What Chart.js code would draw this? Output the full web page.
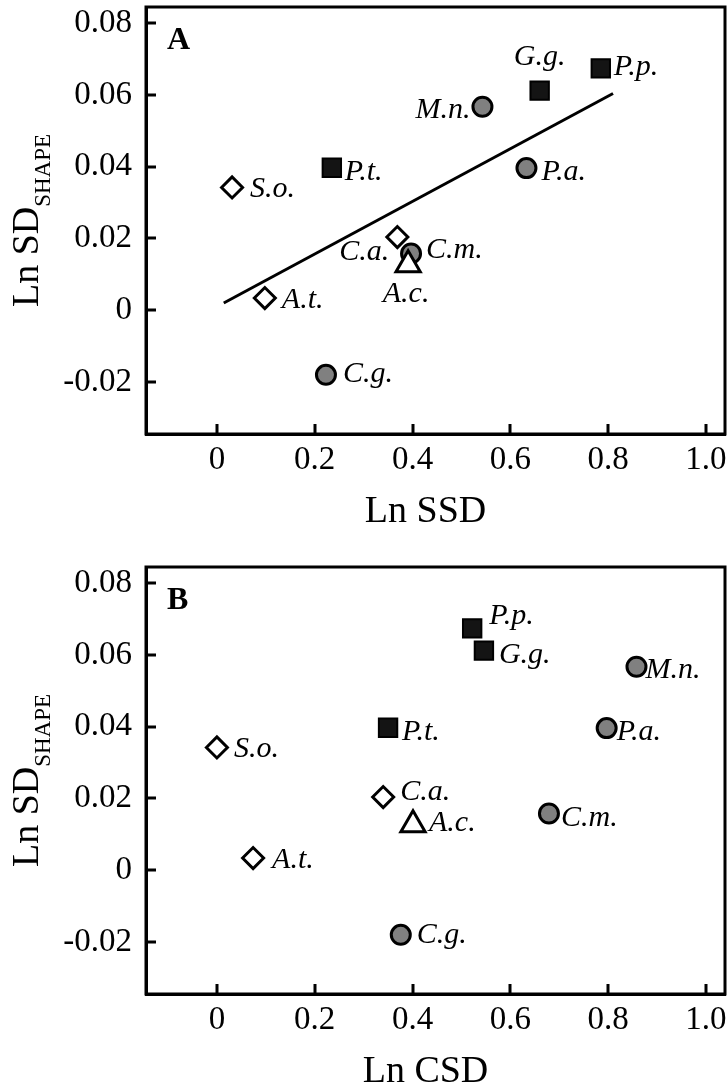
<!DOCTYPE html>
<html>
<head>
<meta charset="utf-8">
<script src="https://cdn.jsdelivr.net/npm/chart.js"></script>
<style>
html, body { margin: 0; padding: 0; background: #fff; overflow: hidden; }
canvas { display: block; }
</style>
</head>
<body>
<canvas id="chartA" width="728" height="560"></canvas>
<canvas id="chartB" width="728" height="528"></canvas>
<script>
// species in drawing order (A.c. last so the triangle sits on top)
var species = ['S.o.', 'A.t.', 'C.a.', 'P.t.', 'G.g.', 'P.p.', 'M.n.', 'P.a.', 'C.m.', 'C.g.', 'A.c.'];
var group = ['open', 'open', 'open', 'black', 'black', 'black', 'grey', 'grey', 'grey', 'grey', 'tri'];
var lnShape = [0.0342, 0.0034, 0.0204, 0.0397, 0.0612, 0.0674, 0.0567, 0.0396, 0.0158, -0.0180, 0.0127];
var lnSSD = [0.031, 0.098, 0.369, 0.235, 0.660, 0.785, 0.543, 0.633, 0.397, 0.223, 0.391];
var lnCSD = [0.000, 0.074, 0.340, 0.350, 0.546, 0.522, 0.858, 0.797, 0.679, 0.376, 0.401];
var fitX = [0.014, 0.810];
var fitY = [0.0020, 0.0604];
var xTicks = [0, 0.2, 0.4, 0.6, 0.8, 1.0];
var xTickLabels = ['0', '0.2', '0.4', '0.6', '0.8', '1.0'];
var yTicks = [-0.02, 0, 0.02, 0.04, 0.06, 0.08];
var yTickLabels = ['-0.02', '0', '0.02', '0.04', '0.06', '0.08'];

var serif = "'Liberation Serif', 'Times New Roman', serif";
var markers = {
    open: { style: 'rectRot', radius: 10.5, fill: '#ffffff', border: '#000', width: 3 },
    tri: { style: 'triangle', radius: 14, fill: '#ffffff', border: '#000', width: 3 },
    black: { style: 'rect', radius: 13, fill: '#141414', border: '#000', width: 2 },
    grey: { style: 'circle', radius: 9.5, fill: '#808080', border: '#000', width: 3 }
};
// label offsets from the point: [dx, dy, align]
var placeA = [[18, 10, 'left'], [17, 10, 'left'], [-8, 23, 'right'], [13, 12, 'left'], [0, -26, 'center'],
    [13, 7, 'left'], [-12, 11, 'right'], [15, 12, 'left'], [15, 4, 'left'], [17, 7, 'left'], [-2, 37, 'center']];
var placeB = [[17, 10, 'left'], [19, 10, 'left'], [17, 3, 'left'], [14, 12, 'left'], [15, 12, 'left'],
    [17, -4, 'left'], [9, 11, 'left'], [10, 12, 'left'], [12, 12, 'left'], [16, 8, 'left'], [16, 6, 'left']];

var panelPlugin = {
    id: 'panel',
    afterDatasetsDraw: function (chart, args, opts) {
        var ctx = chart.ctx;
        var meta = chart.getDatasetMeta(0);
        ctx.save();
        ctx.fillStyle = '#000';
        ctx.font = 'italic 30px ' + serif;
        ctx.textBaseline = 'alphabetic';
        meta.data.forEach(function (el, i) {
            var p = opts.place[i];
            ctx.textAlign = p[2];
            ctx.fillText(species[i], el.x + p[0], el.y + p[1]);
        });
        ctx.restore();
    },
    afterDraw: function (chart, args, opts) {
        var ctx = chart.ctx;
        var a = chart.chartArea;
        var xs = chart.scales.x, ys = chart.scales.y;
        ctx.save();
        ctx.strokeStyle = '#000';
        ctx.lineWidth = 3;
        ctx.strokeRect(a.left, a.top, a.right - a.left, a.bottom - a.top);
        // inward tick marks
        ctx.beginPath();
        xTicks.forEach(function (v) {
            var px = Math.round(xs.getPixelForValue(v));
            ctx.moveTo(px, a.bottom);
            ctx.lineTo(px, a.bottom - 10);
        });
        yTicks.forEach(function (v) {
            var py = Math.round(ys.getPixelForValue(v));
            ctx.moveTo(a.left, py);
            ctx.lineTo(a.left + 10, py);
        });
        ctx.stroke();
        ctx.fillStyle = '#000';
        // panel letter
        ctx.font = 'bold 32px ' + serif;
        ctx.textAlign = 'left';
        ctx.textBaseline = 'alphabetic';
        ctx.fillText(opts.letter, a.left + 21, 49);
        // x title
        ctx.font = '38px ' + serif;
        ctx.textAlign = 'center';
        ctx.fillText(opts.xTitle, 425.5, 522);
        // y title with subscript
        var main = 'Ln SD', sub = 'SHAPE';
        ctx.font = '38px ' + serif;
        var w1 = ctx.measureText(main).width;
        ctx.font = '23px ' + serif;
        var w2 = ctx.measureText(sub).width;
        ctx.translate(38, (a.top + a.bottom) / 2);
        ctx.rotate(-Math.PI / 2);
        ctx.textAlign = 'left';
        ctx.font = '38px ' + serif;
        ctx.fillText(main, -(w1 + w2) / 2, 0);
        ctx.font = '23px ' + serif;
        ctx.fillText(sub, -(w1 + w2) / 2 + w1, 12);
        ctx.restore();
    }
};

function makeChart(id, xs, place, letter, xTitle, withFit) {
    var canvas = document.getElementById(id);
    var H = canvas.height;
    var pts = [];
    for (let i = 0; i < xs.length; i++) {
        pts.push({ x: xs[i], y: lnShape[i] });
    }
    var datasets = [{
        data: pts,
        showLine: false,
        order: 0,
        pointStyle: group.map(function (g) { return markers[g].style; }),
        pointRadius: group.map(function (g) { return markers[g].radius; }),
        pointHoverRadius: group.map(function (g) { return markers[g].radius; }),
        pointBackgroundColor: group.map(function (g) { return markers[g].fill; }),
        pointBorderColor: group.map(function (g) { return markers[g].border; }),
        pointBorderWidth: group.map(function (g) { return markers[g].width; })
    }];
    if (withFit) {
        var line = [];
        for (let i = 0; i < fitX.length; i++) {
            line.push({ x: fitX[i], y: fitY[i] });
        }
        datasets.push({
            data: line,
            showLine: true,
            order: 1,
            borderColor: '#000',
            borderWidth: 3,
            pointRadius: 0,
            fill: false
        });
    }
    return new Chart(canvas, {
        type: 'scatter',
        data: { datasets: datasets },
        options: {
            responsive: false,
            animation: false,
            events: [],
            clip: false,
            layout: { autoPadding: false, padding: { top: 7, right: 3, left: 0, bottom: 0 } },
            scales: {
                x: {
                    type: 'linear',
                    min: -0.145,
                    max: 1.039,
                    afterBuildTicks: function (s) { s.ticks = xTicks.map(function (v) { return { value: v }; }); },
                    afterFit: function (s) {
                        s.height = H - 434;
                        s.paddingLeft = 0; s.paddingRight = 0;
                    },
                    ticks: {
                        autoSkip: false,
                        maxRotation: 0,
                        padding: 7,
                        color: '#000',
                        font: { family: serif, size: 33 },
                        callback: function (v, i) { return xTickLabels[i]; }
                    },
                    grid: { display: false, drawTicks: false },
                    border: { display: true, color: '#000', width: 3 }
                },
                y: {
                    type: 'linear',
                    min: -0.0345,
                    max: 0.0845,
                    afterBuildTicks: function (s) { s.ticks = yTicks.map(function (v) { return { value: v }; }); },
                    afterFit: function (s) {
                        s.width = 146;
                        s.paddingTop = 0; s.paddingBottom = 0;
                    },
                    ticks: {
                        autoSkip: false,
                        padding: 14,
                        color: '#000',
                        font: { family: serif, size: 33 },
                        callback: function (v, i) { return yTickLabels[i]; }
                    },
                    grid: { display: false, drawTicks: false },
                    border: { display: true, color: '#000', width: 3 }
                }
            },
            plugins: {
                legend: { display: false },
                tooltip: { enabled: false },
                panel: { place: place, letter: letter, xTitle: xTitle }
            }
        },
        plugins: [panelPlugin]
    });
}

makeChart('chartA', lnSSD, placeA, 'A', 'Ln SSD', true);
makeChart('chartB', lnCSD, placeB, 'B', 'Ln CSD', false);
</script>
</body>
</html>
